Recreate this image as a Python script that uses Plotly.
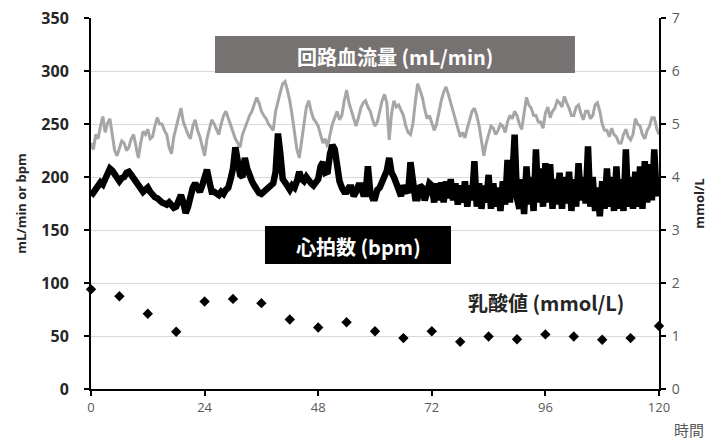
import plotly.graph_objects as go

# time base: one reading every half hour, 0-120 h
hours = [i / 2 for i in range(241)]

flow = [
    232,226,240,236,248,257,242,251,255,238,225,220,228,234,232,225,228,236,240,230,218,232,243,240,
    245,236,238,248,256,250,250,244,240,228,222,238,248,258,265,252,245,240,236,248,254,244,238,228,
    220,236,245,254,250,244,240,250,258,262,255,248,242,236,232,228,240,246,252,258,262,268,275,270,
    262,258,255,250,247,244,262,272,280,288,290,282,272,258,240,226,218,236,250,266,272,262,255,252,
    248,240,232,236,228,240,250,256,262,254,258,272,282,270,262,256,248,256,265,270,272,266,262,254,
    248,252,262,272,278,270,235,260,272,266,268,262,258,248,242,240,250,270,288,282,275,264,255,258,
    252,244,250,262,272,280,285,278,270,262,252,244,238,242,237,246,255,262,265,258,248,232,220,232,
    240,248,246,240,244,250,248,242,252,258,255,262,258,250,245,260,275,268,265,258,258,252,252,246,
    260,266,256,262,265,272,270,266,276,270,265,258,258,266,268,260,254,262,262,255,258,268,270,262,
    250,244,244,238,246,240,238,232,232,240,245,238,235,240,255,250,248,240,236,244,248,256,256,246,
    240]

heart = [
    182,186,190,194,195,193,197,204,208,206,203,198,196,199,200,204,205,202,199,195,192,189,186,188,
    190,186,183,181,180,177,176,175,174,176,174,171,172,178,183,176,166,172,183,190,194,190,186,192,
    198,207,196,186,186,184,183,186,184,188,190,198,208,228,212,202,200,218,208,200,196,192,188,185,
    184,186,187,188,190,194,205,241,222,198,195,190,188,192,190,196,205,198,196,200,196,194,192,196,
    198,210,214,204,205,222,230,226,208,196,190,186,186,190,190,182,186,192,192,184,184,210,186,180,
    180,188,190,196,200,206,218,204,200,192,188,182,192,188,185,214,200,180,180,192,190,178,185,194,
    192,176,194,178,195,176,196,180,198,178,194,174,192,176,196,172,192,178,215,172,194,170,192,176,
    202,170,194,172,190,168,196,174,216,176,198,240,180,170,198,165,210,174,200,168,226,176,208,172,
    213,176,212,170,198,174,204,170,200,175,205,168,198,172,213,178,200,175,229,172,200,168,190,163,
    196,170,208,172,200,168,210,170,198,168,226,172,200,170,205,172,210,170,215,176,212,178,226,182,
    200]

lac_hours = [0, 6, 12, 18, 24, 30, 36, 42, 48, 54, 60, 66, 72, 78, 84, 90, 96, 102, 108, 114, 120]
lactate = [1.88, 1.75, 1.42, 1.08, 1.65, 1.70, 1.62, 1.31, 1.16, 1.26, 1.09,
           0.96, 1.09, 0.89, 0.99, 0.94, 1.03, 0.99, 0.93, 0.96, 1.19]

x_ticks = [0, 24, 48, 72, 96, 120]
left_ticks = [0, 50, 100, 150, 200, 250, 300, 350]
right_ticks = [0, 1, 2, 3, 4, 5, 6, 7]

LAT = "Open Sans, Noto Sans CJK JP, sans-serif"
JP = "Noto Sans CJK JP, Open Sans, sans-serif"

fig = go.Figure()
fig.add_trace(go.Scatter(x=hours, y=flow, mode="lines",
                         line=dict(color="#a6a6a6", width=3), showlegend=False))
fig.add_trace(go.Scatter(x=hours, y=heart, mode="lines",
                         line=dict(color="#000000", width=6.5), showlegend=False))
fig.add_trace(go.Scatter(x=lac_hours, y=lactate, mode="markers", yaxis="y2",
                         marker=dict(symbol="diamond", size=8, color="#000000"),
                         cliponaxis=False, showlegend=False))

fig.update_layout(
    width=705, height=433,
    margin=dict(l=83, r=54, t=10, b=52, autoexpand=False),
    paper_bgcolor="white", plot_bgcolor="white",
    font=dict(family=LAT),
    xaxis=dict(range=[0, 120], tickvals=x_ticks, showgrid=False, zeroline=False, automargin=False,
               showline=True, linecolor="black", linewidth=2, ticklabeloverflow="allow",
               ticks="outside", ticklen=5, tickwidth=2, tickcolor="black",
               tickfont=dict(size=13, color="#595959")),
    yaxis=dict(range=[0, 350], tickvals=left_ticks, showgrid=True, gridcolor="#d9d9d9", gridwidth=1,
               zeroline=False, showline=True, linecolor="black", linewidth=2, automargin=False,
               ticks="outside", ticklen=5, tickwidth=2, tickcolor="black", ticklabelstandoff=12,
               ticklabeloverflow="allow",
               tickfont=dict(size=16, color="#262626", weight="bold"),
               title=dict(text="mL/min or bpm", font=dict(size=13, color="#262626", weight="bold"), standoff=12)),
    yaxis2=dict(range=[0, 7], tickvals=right_ticks, overlaying="y", side="right", automargin=False,
                showgrid=False, zeroline=False, showline=True, linecolor="black", linewidth=2,
                ticks="outside", ticklen=5, tickwidth=2, tickcolor="black", ticklabelstandoff=3,
                ticklabeloverflow="allow",
                tickfont=dict(size=14, color="#595959"),
                title=dict(text="mmol/L", font=dict(size=13, color="#262626", weight="bold"), standoff=16)),
    shapes=[
        dict(type="rect", xref="paper", yref="paper", x0=0.2183, x1=0.852, y0=0.8518, y1=0.9515,
             fillcolor="#777272", line=dict(width=0), layer="above"),
        dict(type="rect", xref="paper", yref="paper", x0=0.3063, x1=0.6338, y0=0.3369, y1=0.4394,
             fillcolor="#000000", line=dict(width=0), layer="above"),
    ],
    annotations=[
        dict(text="回路血流量 (mL/min)", xref="paper", yref="paper", x=0.535, y=0.8957,
             xanchor="center", yanchor="middle", showarrow=False,
             font=dict(family=JP, size=20, color="white", weight="bold")),
        dict(text="心拍数 (bpm)", xref="paper", yref="paper", x=0.471, y=0.3836,
             xanchor="center", yanchor="middle", showarrow=False,
             font=dict(family=JP, size=20, color="white", weight="bold")),
        dict(text="乳酸値 (mmol/L)", xref="paper", yref="paper", x=0.801, y=0.232,
             xanchor="center", yanchor="middle", showarrow=False,
             font=dict(family=JP, size=20, color="#262626", weight="bold")),
        dict(text="時間", xref="paper", yref="paper", x=1.053, y=-0.110,
             xanchor="center", yanchor="middle", showarrow=False,
             font=dict(family=JP, size=15, color="#595959")),
    ],
)

fig.write_html("out.html")
